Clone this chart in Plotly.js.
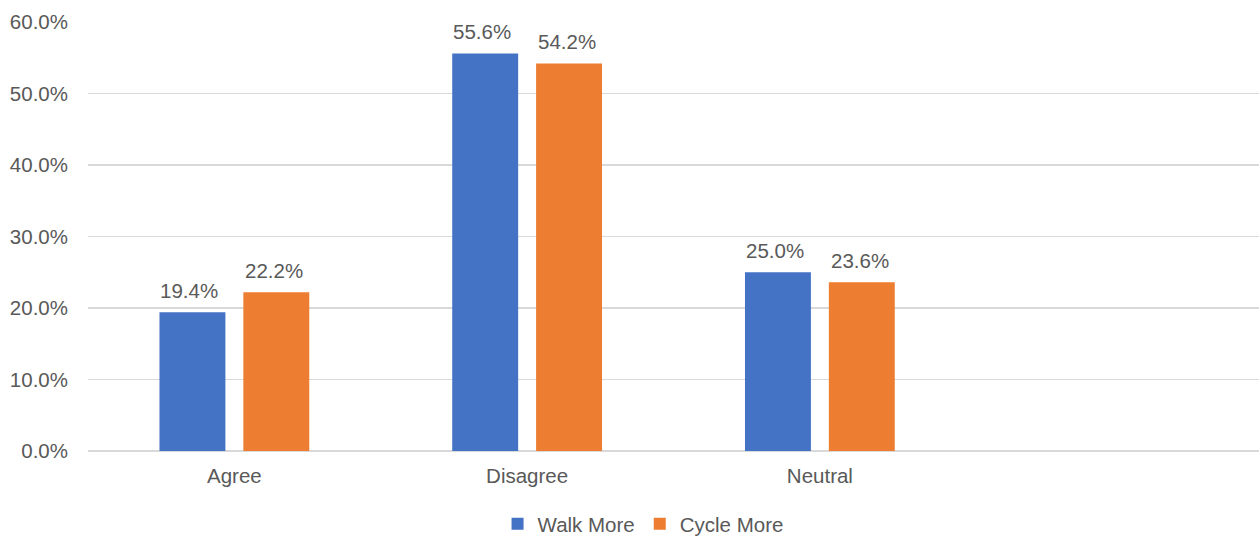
<!DOCTYPE html>
<html>
<head>
<meta charset="utf-8">
<script src="https://cdn.plot.ly/plotly-3.0.1.min.js"></script>
<style>html,body{margin:0;padding:0;background:#fff;}#chart{width:1259px;height:536px;}</style>
</head>
<body>
<div id="chart"></div>
<script>
const categories = ['Agree', 'Disagree', 'Neutral'];
const walkMore = [0.194, 0.556, 0.250];
const cycleMore = [0.222, 0.542, 0.236];
const seriesNames = ['Walk More', 'Cycle More'];
const yTickVals = [0, 0.1, 0.2, 0.3, 0.4, 0.5, 0.6];

const font = {family: 'Liberation Sans, Arial, sans-serif', size: 20.5, color: '#595959'};
function fmt(v){ return (v*100).toFixed(1) + '%'; }

const traces = [
  {type: 'bar', name: seriesNames[0], x: categories, y: walkMore,
   marker: {color: '#4472C4'}, hoverinfo: 'x+y'},
  {type: 'bar', name: seriesNames[1], x: categories, y: cycleMore,
   marker: {color: '#ED7D31'}, hoverinfo: 'x+y'}
];

const annotations = [];
[walkMore, cycleMore].forEach((vals, si) => {
  vals.forEach((v, i) => {
    annotations.push({x: categories[i], y: v, xref: 'x', yref: 'y', text: fmt(v),
      showarrow: false, xanchor: 'center', yanchor: 'bottom',
      xshift: si === 0 ? -45 : 40, yshift: 8, font: font});
  });
});

const layout = {
  width: 1259, height: 536,
  margin: {l: 88, r: 0, t: 22, b: 85, autoexpand: false},
  paper_bgcolor: '#fff', plot_bgcolor: '#fff',
  font: font,
  barmode: 'group', bargap: 0.427, bargroupgap: 0.214,
  showlegend: true,
  legend: {orientation: 'h', x: 0.474, xanchor: 'center', y: -0.17, yanchor: 'middle',
           font: font, itemwidth: 30, traceorder: 'normal'},
  annotations: annotations,
  xaxis: {type: 'category', range: [-0.5, 3.5], showgrid: false, showline: false,
          zeroline: false, ticks: '', tickfont: font, ticklabelstandoff: 10, fixedrange: true},
  yaxis: {range: [0, 0.6], tickvals: yTickVals, ticktext: yTickVals.map(fmt),
          showgrid: true, gridcolor: '#d9d9d9', gridwidth: 1.5,
          zeroline: true, zerolinecolor: '#d9d9d9', zerolinewidth: 1.5,
          showline: false, ticks: '', tickfont: font, ticklabelstandoff: 19, fixedrange: true}
};

Plotly.newPlot('chart', traces, layout, {displayModeBar: false, staticPlot: true});
</script>
</body>
</html>
